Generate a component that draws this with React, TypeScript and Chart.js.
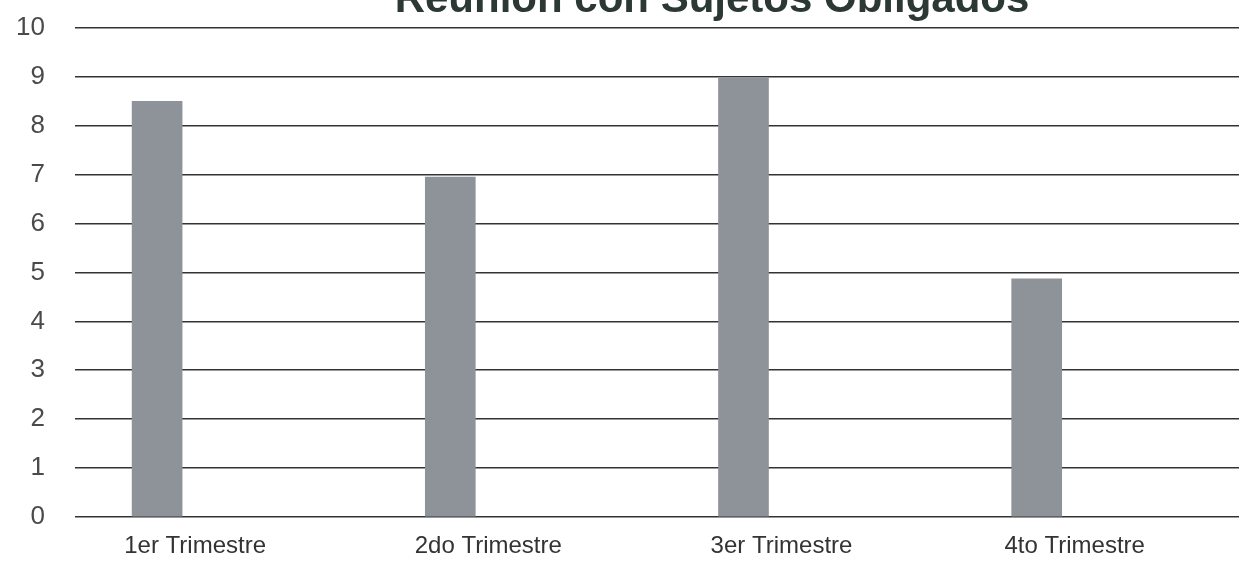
import React, { useEffect, useRef } from "react";
import { Chart, registerables } from "chart.js";

Chart.register(...registerables);

const TITLE = "Reunión con Sujetos Obligados";
const CATEGORIES = ["1er Trimestre", "2do Trimestre", "3er Trimestre", "4to Trimestre"];
const VALUES = [8.5, 6.95, 8.97, 4.87];
const Y_TICKS = [0, 1, 2, 3, 4, 5, 6, 7, 8, 9, 10];

const FONT = "'Liberation Sans', Arial, sans-serif";

const titlePlugin = {
  id: "scanTitle",
  afterDraw(chart: any) {
    const ctx = chart.ctx;
    ctx.save();
    ctx.font = `bold 42px ${FONT}`;
    ctx.fillStyle = "#2b3833";
    ctx.textAlign = "center";
    ctx.textBaseline = "alphabetic";
    ctx.fillText(TITLE, 712, 42);
    ctx.restore();
  },
};

export default function App() {
  const ref = useRef<HTMLCanvasElement | null>(null);

  useEffect(() => {
    if (!ref.current) return;
    const data = VALUES.map((v, i) => ({ x: i, y: v }));
    const chart = new Chart(ref.current, {
      type: "bar",
      data: {
        datasets: [
          {
            data,
            backgroundColor: "#8e939a",
            borderWidth: 0,
            barThickness: 50,
          },
        ],
      },
      plugins: [titlePlugin],
      options: {
        animation: false,
        responsive: false,
        maintainAspectRatio: false,
        layout: { padding: { top: 58, left: 0, right: 0, bottom: 0 } },
        plugins: {
          legend: { display: false },
          title: { display: false },
          tooltip: { enabled: false },
        },
        scales: {
          x: {
            type: "linear",
            offset: false,
            min: -0.28,
            max: 3.69,
            grid: { display: false, offset: false },
            border: { display: false },
            afterBuildTicks(scale: any) {
              scale.ticks = CATEGORIES.map((_, i) => ({ value: i }));
            },
            afterFit(scale: any) {
              scale.height = 65;
            },
            ticks: {
              callback: (v: any) => CATEGORIES[Math.round(Number(v))] ?? "",
              color: "#333333",
              font: { size: 24, family: FONT },
              padding: 7,
              labelOffset: 38,
              maxRotation: 0,
              autoSkip: false,
            },
          },
          y: {
            min: 0,
            max: 10,
            grid: {
              color: "#333333",
              lineWidth: 1.6,
              drawTicks: false,
            },
            border: { display: false },
            afterBuildTicks(scale: any) {
              scale.ticks = Y_TICKS.map((v) => ({ value: v }));
            },
            afterFit(scale: any) {
              scale.width = 75;
            },
            ticks: {
              color: "#4a4a4a",
              font: { size: 26, family: FONT },
              padding: 30,
            },
          },
        },
      },
    });
    return () => chart.destroy();
  }, []);

  return (
    <div style={{ position: "absolute", left: 0, top: 0, width: 1239, height: 582, overflow: "hidden", background: "#ffffff" }}>
      <canvas
        ref={ref}
        width={1239}
        height={612}
        style={{ position: "absolute", left: 0, top: -30, width: 1239, height: 612 }}
      />
    </div>
  );
}
